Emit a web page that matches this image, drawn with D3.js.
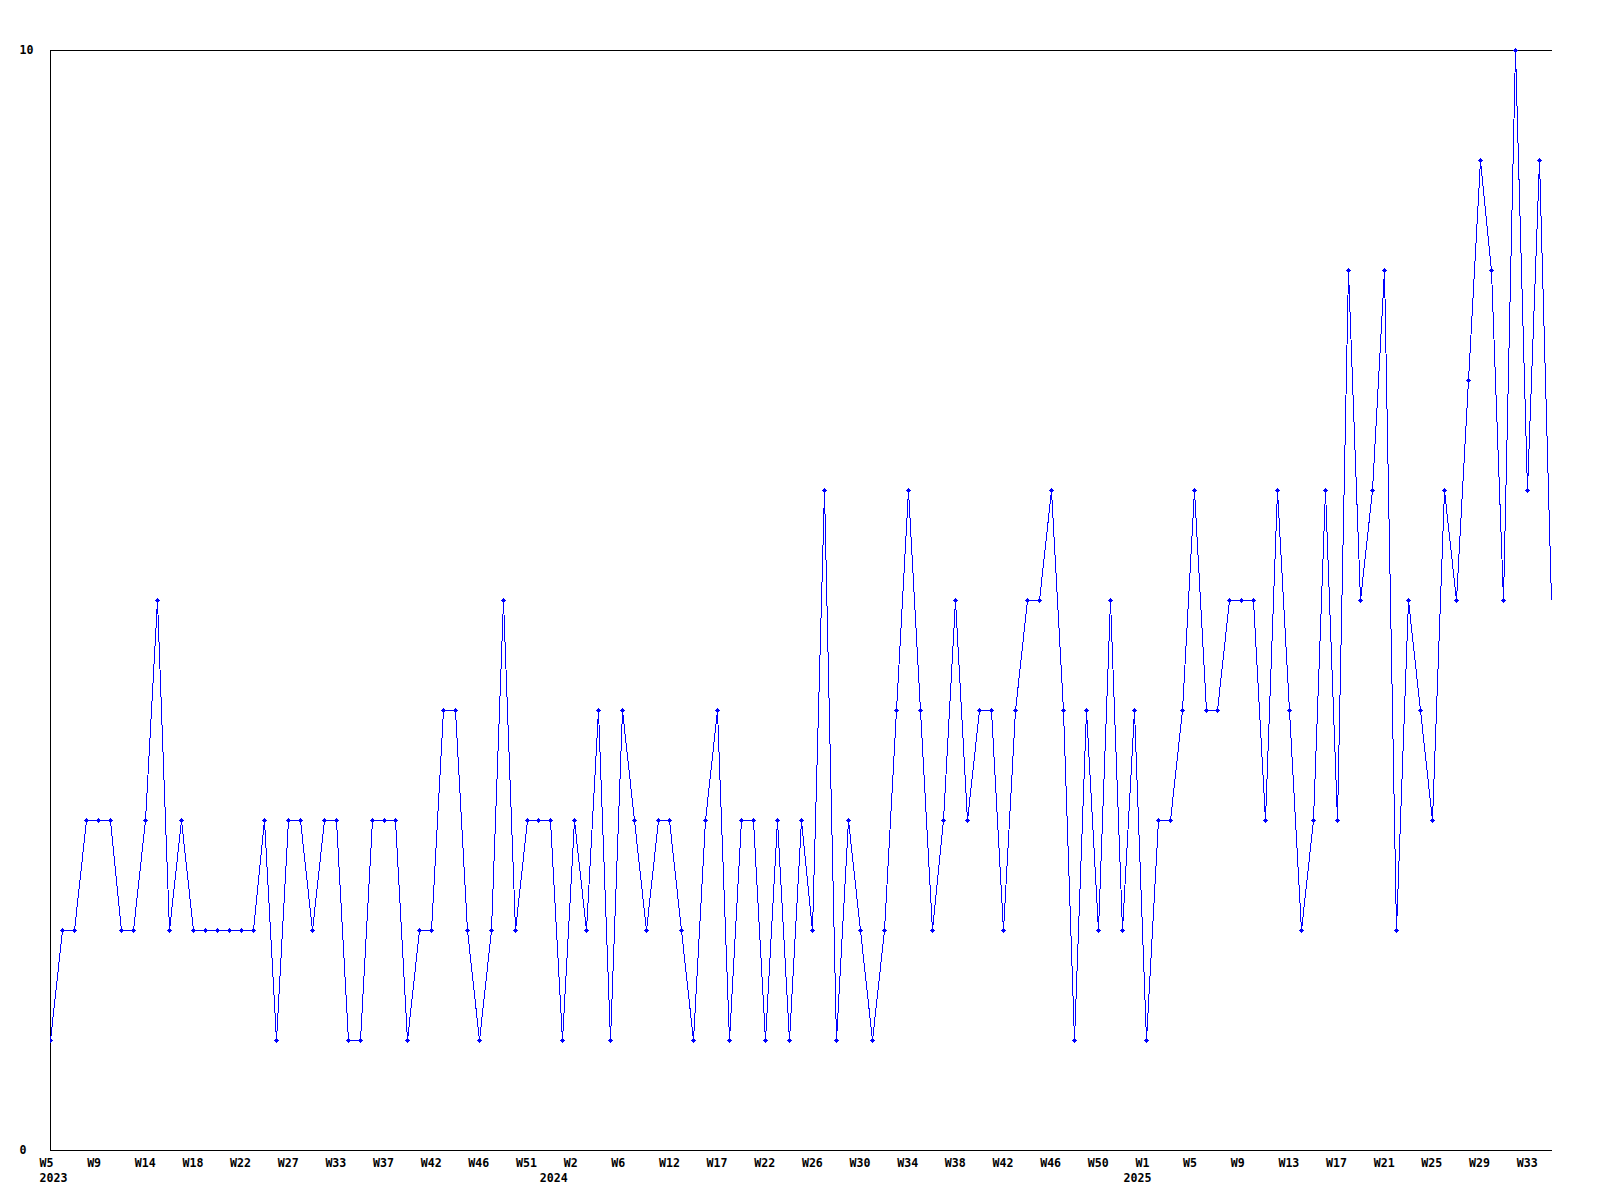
<!DOCTYPE html>
<html>
<head>
<meta charset="utf-8">
<script src="https://d3js.org/d3.v7.min.js"></script>
<style>
  html, body { margin: 0; padding: 0; background: #ffffff; }
  svg { display: block; }
  text { font-family: "DejaVu Sans Mono", "Liberation Mono", monospace; font-weight: bold; font-size: 11.6px; fill: #000; }
</style>
</head>
<body>
<div id="chart"></div>
<script>
// Weekly values, from 2023 W5 onwards (one per category)
const values = [
  1,2,2,3,3,3,2,2,3,5,
  2,3,2,2,2,2,2,2,3,1,
  3,3,2,3,3,1,1,3,3,3,
  1,2,2,4,4,2,1,2,5,2,
  3,3,3,1,3,2,4,1,4,3,
  2,3,3,2,1,3,4,1,3,3,
  1,3,1,3,2,6,1,3,2,1,
  2,4,6,4,2,3,5,3,4,4,
  2,4,5,5,6,4,1,4,2,5,
  2,4,1,3,3,4,6,4,4,5,
  5,5,3,6,4,2,3,6,3,8,
  5,6,8,2,5,4,3,6,5,7,
  9,8,5,10,6,9,5
];
// Week labels, shown on every 4th category
const weekLabels = ["W5","W9","W14","W18","W22","W27","W33","W37","W42","W46","W51",
  "W2","W6","W12","W17","W22","W26","W30","W34","W38","W42","W46","W50",
  "W1","W5","W9","W13","W17","W21","W25","W29","W33"];
const weekLabelStep = 4;
// Year labels and the category they are attached to
const yearLabels = ["2023","2024","2025"];
const yearIndex = [0, 42, 91];
// Y axis labels
const yTicks = [0, 10];

(function () {
  const W = 1600, H = 1200;
  const mLeft = 50, mRight = 1551, mTop = 50, mBottom = 1150;

  const svg = d3.select("#chart").append("svg").attr("width", W).attr("height", H);

  const x = d3.scaleLinear().domain([0, values.length - 1]).range([mLeft, mRight]);
  const y = d3.scaleLinear().domain([0, 10]).range([mBottom, mTop]);

  const px = v => Math.round(v) + 0.5;

  // frame: left, top, bottom lines
  svg.append("path")
    .attr("d", `M${px(mLeft)},${px(mBottom)}V${px(mTop)}H${px(mRight)}M${px(mLeft)},${px(mBottom)}H${px(mRight)}`)
    .attr("fill", "none").attr("stroke", "#000").attr("stroke-width", 1)
    .attr("shape-rendering", "crispEdges");

  // y labels
  svg.selectAll("text.ylab").data(yTicks).enter().append("text")
    .attr("class", "ylab")
    .attr("x", 19.5)
    .attr("y", d => y(d) + 4)
    .text(d => d);

  // x week labels
  svg.selectAll("text.wlab").data(weekLabels).enter().append("text")
    .attr("class", "wlab")
    .attr("x", (d, i) => x(i * weekLabelStep) - 10.5)
    .attr("y", 1167)
    .text(d => d);

  // year labels
  svg.selectAll("text.yrlab").data(yearLabels).enter().append("text")
    .attr("class", "yrlab")
    .attr("x", (d, i) => x(yearIndex[i]) - 10.5)
    .attr("y", 1182)
    .text(d => d);

  // clip for the plot area
  svg.append("clipPath").attr("id", "clip")
    .append("rect").attr("x", mLeft).attr("y", mTop - 4).attr("width", mRight - mLeft + 1).attr("height", mBottom - mTop + 8);

  const g = svg.append("g").attr("clip-path", "url(#clip)");

  const line = d3.line()
    .x((d, i) => px(x(i)))
    .y(d => px(y(d)));

  g.append("path")
    .datum(values)
    .attr("d", line)
    .attr("fill", "none")
    .attr("stroke", "#0000ff")
    .attr("stroke-width", 1)
    .attr("shape-rendering", "crispEdges");

  // markers: small pixel crosses
  const markerPath = "M-2,0h5v1h-5zM0,-2h1v5h-1zM-1,-1h3v3h-3z";
  g.selectAll("path.mk").data(values.slice(0, values.length - 1)).enter().append("path")
    .attr("class", "mk")
    .attr("d", markerPath)
    .attr("transform", (d, i) => `translate(${Math.round(x(i))},${Math.round(y(d))})`)
    .attr("fill", "#0000ff")
    .attr("shape-rendering", "crispEdges");
})();
</script>
</body>
</html>
